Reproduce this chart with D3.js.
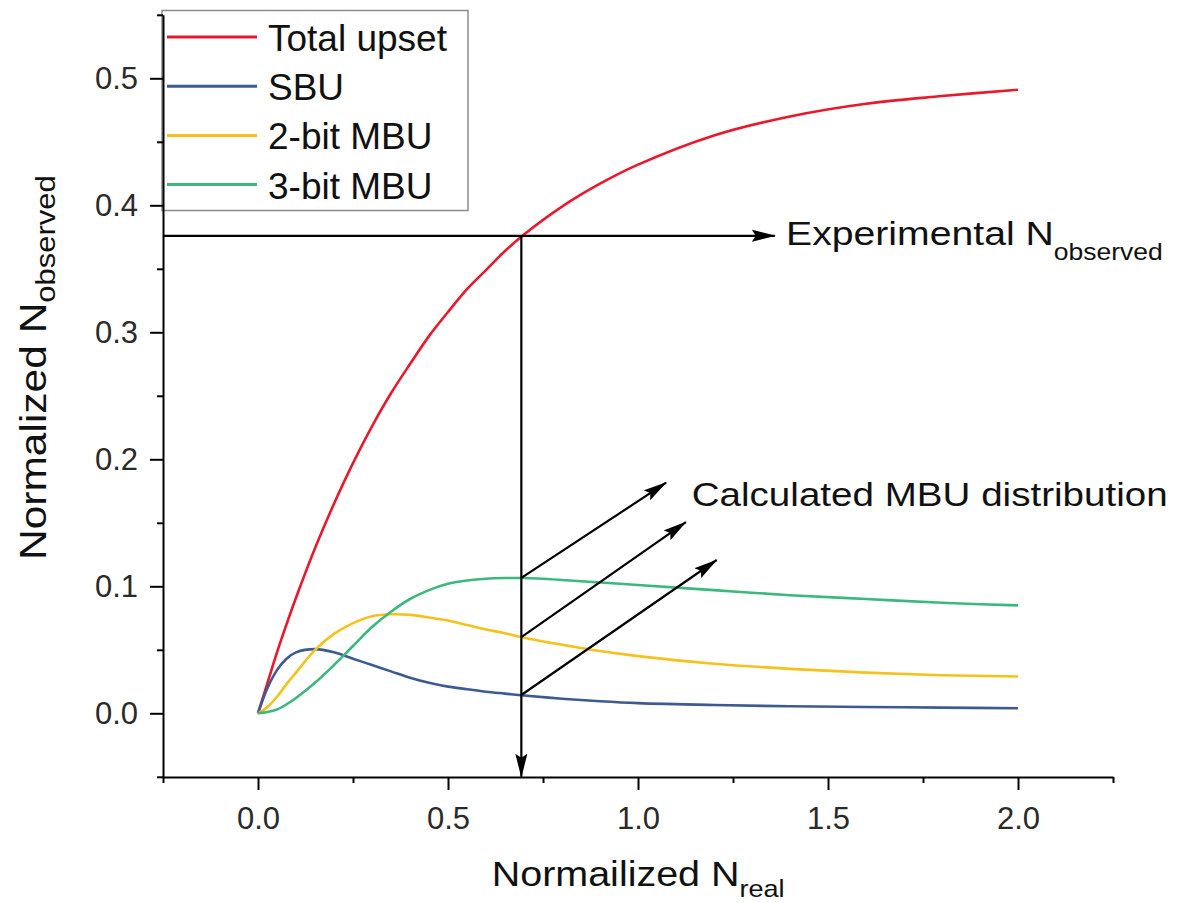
<!DOCTYPE html>
<html>
<head>
<meta charset="utf-8">
<script src="https://cdn.jsdelivr.net/npm/d3@7"></script>
<style>
  body { margin: 0; background: #fff; }
  svg { display: block; font-family: "Liberation Sans", Arial, sans-serif; }
</style>
</head>
<body>
<svg id="chart" width="1184" height="903"></svg>
<script>
// values
var nReal = [0, 0.025, 0.05, 0.075, 0.1, 0.15, 0.2, 0.25, 0.3, 0.35, 0.4, 0.45, 0.5,
             0.55, 0.6, 0.65, 0.7, 0.8, 0.9, 1.0, 1.2, 1.4, 1.6, 1.8, 2.0];
var totalUpset = [0, 0.024, 0.048, 0.070, 0.091, 0.130, 0.165, 0.197, 0.226, 0.252, 0.275, 0.297, 0.316,
                  0.334, 0.349, 0.364, 0.377, 0.399, 0.417, 0.432, 0.455, 0.470, 0.480, 0.486, 0.491];
var sbu = [0, 0.020, 0.034, 0.043, 0.048, 0.0505, 0.048, 0.043, 0.038, 0.033, 0.028, 0.024, 0.021,
           0.019, 0.017, 0.0155, 0.014, 0.0115, 0.0095, 0.008, 0.0065, 0.0055, 0.005, 0.0045, 0.004];
var mbu2 = [0, 0.005, 0.013, 0.023, 0.032, 0.050, 0.0625, 0.071, 0.0765, 0.078, 0.0775, 0.0755, 0.073,
            0.0695, 0.066, 0.063, 0.0595, 0.054, 0.049, 0.045, 0.039, 0.035, 0.032, 0.030, 0.029];
var mbu3 = [0, 0.001, 0.003, 0.007, 0.012, 0.024, 0.038, 0.053, 0.068, 0.080, 0.090, 0.097, 0.102,
            0.1045, 0.106, 0.1065, 0.1065, 0.105, 0.103, 0.101, 0.097, 0.093, 0.090, 0.087, 0.085];

var seriesNames = ["Total upset", "SBU", "2-bit MBU", "3-bit MBU"];
var seriesColors = ["#e8192c", "#3d5a91", "#f5c21b", "#3cb87f"];
var seriesValues = [totalUpset, sbu, mbu2, mbu3];

var xMajor = [0, 0.5, 1.0, 1.5, 2.0];
var xMinor = [-0.25, 0.25, 0.75, 1.25, 1.75, 2.25];
var yMajor = [0, 0.1, 0.2, 0.3, 0.4, 0.5];
var yMinor = [-0.05, 0.05, 0.15, 0.25, 0.35, 0.45, 0.55];

// annotation: experimental level and the read-out point
var expLevel = 0.376;
var expX = 0.693;
var expArrowEnd = 1.36;
var mbuStartY = [0.1066, 0.060, 0.0144];
var mbuEndX = [1.074, 1.126, 1.207];
var mbuEndY = [0.1816, 0.1506, 0.1207];

var svg = d3.select("#chart");

var x = d3.scaleLinear().domain([-0.25, 2.25]).range([163, 1113]);
var y = d3.scaleLinear().domain([-0.05, 0.55]).range([776.8, 14.8]);

svg.append("defs").append("marker")
    .attr("id", "arrow")
    .attr("markerUnits", "userSpaceOnUse")
    .attr("markerWidth", 24).attr("markerHeight", 13)
    .attr("refX", 23).attr("refY", 6.5)
    .attr("orient", "auto")
    .append("path")
    .attr("d", "M0,0.5 L24,6.5 L0,12.5 L4,6.5 Z")
    .attr("fill", "#000");

// legend box first so the axis sits over its left edge
var legend = svg.append("g");
legend.append("rect")
    .attr("x", 162).attr("y", 10.5).attr("width", 306).attr("height", 200)
    .attr("fill", "#fff").attr("stroke", "#8c8c8c").attr("stroke-width", 1.5);
var legendRow = legend.selectAll("g.row")
    .data(seriesNames)
    .enter().append("g")
    .attr("class", "row")
    .attr("transform", function (d, i) { return "translate(0," + (37 + i * 49.2) + ")"; });
legendRow.append("line")
    .attr("x1", 167).attr("x2", 257)
    .attr("stroke", function (d, i) { return seriesColors[i]; })
    .attr("stroke-width", 3);
legendRow.append("text")
    .attr("x", 268).attr("y", 14)
    .attr("font-size", 37)
    .attr("fill", "#111")
    .text(function (d) { return d; });

// curves
var line = d3.line()
    .x(function (d) { return x(d[0]); })
    .y(function (d) { return y(d[1]); })
    .curve(d3.curveCatmullRom.alpha(0.5));

svg.selectAll("path.series")
    .data(seriesValues)
    .enter().append("path")
    .attr("class", "series")
    .attr("fill", "none")
    .attr("stroke", function (d, i) { return seriesColors[i]; })
    .attr("stroke-width", 2.6)
    .attr("d", function (vals) { return line(nReal.map(function (n, j) { return [n, vals[j]]; })); });

// arrows
var ann = svg.append("g").attr("stroke", "#000").attr("stroke-width", 2.2);
ann.append("line")
    .attr("x1", x(-0.25)).attr("y1", y(expLevel))
    .attr("x2", x(expArrowEnd)).attr("y2", y(expLevel))
    .attr("marker-end", "url(#arrow)");
ann.append("line")
    .attr("x1", x(expX)).attr("y1", y(expLevel))
    .attr("x2", x(expX)).attr("y2", y(-0.05))
    .attr("marker-end", "url(#arrow)");
ann.selectAll("line.mbu")
    .data(mbuStartY)
    .enter().append("line")
    .attr("class", "mbu")
    .attr("x1", x(expX))
    .attr("y1", function (d) { return y(d); })
    .attr("x2", function (d, i) { return x(mbuEndX[i]); })
    .attr("y2", function (d, i) { return y(mbuEndY[i]); })
    .attr("marker-end", "url(#arrow)");

// axes
var fmt = d3.format(".1f");
var xAxis = svg.append("g").attr("transform", "translate(0,777)")
    .call(d3.axisBottom(x).tickValues(xMajor).tickSize(13).tickPadding(17).tickSizeOuter(0).tickFormat(fmt));
var xAxisMinor = svg.append("g").attr("transform", "translate(0,777)")
    .call(d3.axisBottom(x).tickValues(xMinor).tickSize(6).tickFormat(""));
xAxisMinor.select(".domain").remove();

var yAxis = svg.append("g").attr("transform", "translate(163,0)")
    .call(d3.axisLeft(y).tickValues(yMajor).tickSize(13).tickPadding(12).tickSizeOuter(0).tickFormat(fmt));
var yAxisMinor = svg.append("g").attr("transform", "translate(163,0)")
    .call(d3.axisLeft(y).tickValues(yMinor).tickSize(6).tickFormat(""));
yAxisMinor.select(".domain").remove();

svg.selectAll(".domain, .tick line").attr("stroke", "#000").attr("stroke-width", 2);
svg.selectAll(".tick text")
    .attr("font-size", 31)
    .attr("font-family", "Liberation Sans, Arial, sans-serif")
    .attr("fill", "#2a2a2a");

// text with subscript, stretched to the width it has in the picture
var placeText = function (parts, px, py, width, angle) {
    var t = svg.append("text").attr("fill", "#111");
    parts.forEach(function (p) {
        t.append("tspan").attr("font-size", p[1]).attr("dy", p[2]).text(p[0]);
    });
    var k = width / t.node().getBBox().width;
    t.attr("transform", "translate(" + px + "," + py + ") rotate(" + angle + ") scale(" + k + ",1)");
    return t;
}

placeText([["Normailized N", 35, 0], ["real", 24, 11]], 491.7, 886, 293, 0);
placeText([["Normalized N", 37, 0], ["observed", 27, 9]], 46, 560, 385, -90);
placeText([["Experimental N", 34, 0], ["observed", 23, 15]], 786, 245, 377, 0);
placeText([["Calculated MBU distribution", 34, 0]], 691.7, 506, 476, 0);
</script>
</body>
</html>
